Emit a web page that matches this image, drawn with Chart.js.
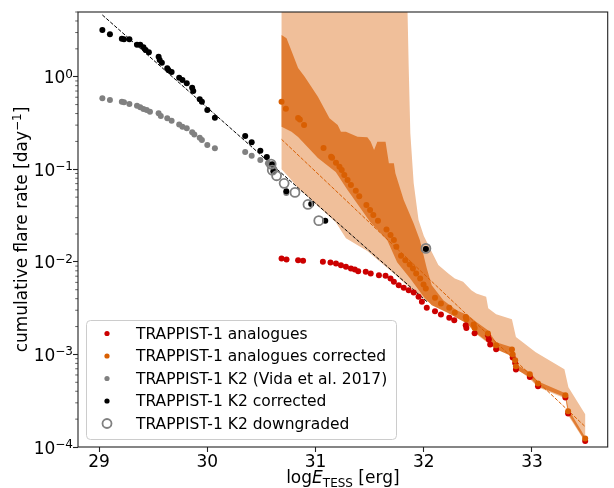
<!DOCTYPE html>
<html>
<head>
<meta charset="utf-8">
<script src="https://cdn.jsdelivr.net/npm/chart.js@4/dist/chart.umd.min.js"></script>
<style>
  html, body { margin: 0; padding: 0; background: #fff; }
  canvas { display: block; }
</style>
</head>
<body>
<canvas id="flareChart" width="614" height="488"></canvas>
<script>
// energies are log10(E_TESS / erg), rates are log10(cumulative rate / day)
const analogE = [30.686,30.732,30.839,30.885,31.068,31.138,31.189,31.235,31.281,31.327,31.363,31.394,31.464,31.510,31.586,31.647,31.693,31.724,31.769,31.815,31.861,31.907,31.952,31.983,32.028,32.104,32.159,32.236,32.282,32.388,32.394,32.470,32.593,32.602,32.614,32.669,32.822,32.845,32.852,32.980,33.056,33.309,33.334,33.492];
const analogLogRate = [-1.963,-1.974,-1.982,-1.989,-2.000,-2.006,-2.017,-2.036,-2.054,-2.071,-2.082,-2.101,-2.108,-2.125,-2.144,-2.151,-2.179,-2.216,-2.252,-2.281,-2.306,-2.331,-2.378,-2.432,-2.497,-2.533,-2.569,-2.605,-2.630,-2.684,-2.714,-2.771,-2.792,-2.839,-2.893,-2.944,-3.034,-3.092,-3.163,-3.243,-3.344,-3.466,-3.639,-3.935];

const correctedE = [30.686,30.726,30.839,30.855,30.894,31.074,31.144,31.153,31.189,31.221,31.242,31.266,31.296,31.327,31.372,31.404,31.470,31.504,31.534,31.577,31.656,31.693,31.724,31.747,31.790,31.830,31.870,31.900,31.930,31.967,31.998,32.019,32.104,32.159,32.236,32.287,32.388,32.394,32.461,32.470,32.593,32.669,32.815,32.822,32.845,32.852,32.980,33.056,33.309,33.334,33.492];
const correctedLogRate = [-0.270,-0.346,-0.446,-0.461,-0.522,-0.771,-0.865,-0.876,-0.930,-0.973,-1.009,-1.063,-1.117,-1.171,-1.232,-1.290,-1.387,-1.441,-1.495,-1.557,-1.650,-1.711,-1.765,-1.838,-1.935,-1.982,-2.028,-2.071,-2.125,-2.179,-2.244,-2.288,-2.389,-2.450,-2.497,-2.547,-2.595,-2.619,-2.677,-2.714,-2.774,-2.901,-2.947,-3.001,-3.063,-3.128,-3.214,-3.315,-3.441,-3.614,-3.909];

const vidaE = [29.03,29.10,29.21,29.23,29.28,29.35,29.38,29.41,29.44,29.47,29.55,29.57,29.63,29.67,29.74,29.77,29.81,29.86,29.88,29.93,29.95,30.00,30.07,30.35,30.41,30.49,30.56,30.61,30.73,32.02];
const vidaLogRate = [-0.234,-0.252,-0.270,-0.277,-0.295,-0.314,-0.331,-0.349,-0.360,-0.378,-0.396,-0.425,-0.450,-0.476,-0.515,-0.540,-0.558,-0.601,-0.623,-0.659,-0.684,-0.738,-0.774,-0.814,-0.854,-0.900,-0.936,-0.987,-1.257,-1.860];

const k2CorrE = [29.03,29.10,29.21,29.23,29.28,29.35,29.38,29.41,29.43,29.46,29.55,29.56,29.58,29.63,29.64,29.67,29.74,29.77,29.81,29.86,29.87,29.93,29.95,30.00,30.07,30.35,30.41,30.49,30.55,30.60,30.61,30.73,30.96,31.09,32.02];
const k2CorrLogRate = [0.505,0.458,0.411,0.404,0.404,0.346,0.346,0.318,0.289,0.264,0.216,0.181,0.151,0.091,0.072,0.051,-0.011,-0.036,-0.071,-0.119,-0.155,-0.244,-0.270,-0.360,-0.443,-0.641,-0.709,-0.800,-0.868,-0.947,-1.020,-1.236,-1.376,-1.557,-1.860];

const downE = [30.59,30.60,30.64,30.71,30.81,30.93,31.03,32.02];
const downLogRate = [-0.944,-1.009,-1.070,-1.152,-1.250,-1.380,-1.555,-1.855];

// power-law fits (end points)
const k2FitE = [29.03, 32.03];
const k2FitLogRate = [0.667, -2.43];
const analogFitE = [30.686, 33.492];
const analogFitLogRate = [-0.677, -3.78];

// uncertainty bands as outlines: upper edge left->right, then lower edge right->left
const outerBandE = [30.686,31.845,31.861,31.876,31.907,31.952,32.001,32.056,32.135,32.227,32.287,32.364,32.440,32.486,32.577,32.596,32.669,32.815,32.852,33.035,33.300,33.337,33.492,
  33.492,33.334,33.309,33.056,32.974,32.845,32.815,32.669,32.608,32.486,32.394,32.211,32.028,31.845,31.724,31.479,31.281,31.187,30.961,30.839,30.763,30.686];
const outerBandLogRate = [1.0,1.0,0.108,-0.609,-1.149,-1.549,-1.722,-1.851,-2.035,-2.125,-2.179,-2.216,-2.306,-2.342,-2.378,-2.501,-2.565,-2.619,-2.811,-2.976,-3.160,-3.355,-3.647,
  -3.946,-3.657,-3.477,-3.355,-3.257,-3.138,-2.976,-2.954,-2.889,-2.781,-2.651,-2.532,-2.425,-2.252,-2.125,-1.884,-1.744,-1.571,-1.333,-1.206,-1.098,-1.001];

const innerBandE = [30.686,30.732,30.763,30.839,30.900,31.022,31.129,31.205,31.235,31.281,31.388,31.479,31.510,31.541,31.571,31.647,31.678,31.724,31.738,31.815,31.907,31.964,32.028,32.074,32.181,32.303,32.410,32.486,32.593,32.669,32.815,32.852,32.980,33.053,33.309,33.337,33.492,
  33.492,33.337,33.309,33.053,32.980,32.852,32.815,32.669,32.605,32.486,32.394,32.211,32.074,32.001,31.873,31.754,31.662,31.507,31.296,31.187,31.022,30.839,30.778,30.686];
const innerBandLogRate = [0.451,0.415,0.324,0.094,0.0,-0.216,-0.450,-0.522,-0.595,-0.595,-0.649,-0.655,-0.703,-0.792,-0.703,-0.703,-0.936,-0.936,-1.044,-1.333,-1.585,-1.765,-2.068,-2.252,-2.414,-2.522,-2.576,-2.649,-2.738,-2.868,-2.922,-3.106,-3.192,-3.290,-3.419,-3.592,-3.895,
  -3.938,-3.646,-3.463,-3.344,-3.247,-3.160,-3.019,-2.944,-2.879,-2.771,-2.663,-2.544,-2.468,-2.381,-2.176,-2.003,-1.765,-1.571,-1.225,-1.030,-0.879,-0.652,-0.595,-0.541];

const xTicks = [29, 30, 31, 32, 33];
const yTicks = [1e-4, 1e-3, 1e-2, 1e-1, 1];
const yTickExponents = ['\u22124', '\u22123', '\u22122', '\u22121', '0'];

const FONT = "'DejaVu Sans', sans-serif";
const ORANGE = '#d95f02';

function toPoints(es, logRates) {
  return es.map((e, i) => ({ x: e, y: Math.pow(10, logRates[i]) }));
}

// minor ticks on the log axis: 2..9 x 10^k
const minorTicks = [];
for (let k = -4; k <= 0; k++) {
  for (let m = 2; m <= 9; m++) minorTicks.push(m * Math.pow(10, k));
}

// draws runs of [text, font, baseline shift] one after another, centred on x
function drawRuns(ctx, parts, cx, baseline) {
  let total = 0;
  parts.forEach(p => { ctx.font = p[1]; total += ctx.measureText(p[0]).width; });
  let x = cx - total / 2;
  parts.forEach(p => {
    ctx.font = p[1];
    ctx.fillText(p[0], x, baseline + p[2]);
    x += ctx.measureText(p[0]).width;
  });
}

const framePlugin = {
  id: 'frame',
  afterDatasetsDraw(chart) {
    const { ctx, chartArea: a, scales } = chart;
    ctx.save();
    ctx.strokeStyle = '#222';
    ctx.lineWidth = 1.1;
    ctx.strokeRect(a.left, a.top, a.right - a.left, a.bottom - a.top);
    ctx.lineWidth = 0.7;
    minorTicks.forEach(v => {
      const py = scales.y.getPixelForValue(v);
      if (py < a.top || py > a.bottom) return;
      ctx.beginPath();
      ctx.moveTo(a.left, py);
      ctx.lineTo(a.left - 2.8, py);
      ctx.stroke();
    });
    ctx.restore();
  },
  afterDraw(chart) {
    const { ctx, chartArea: a, scales } = chart;
    ctx.save();
    ctx.fillStyle = '#000';
    ctx.textBaseline = 'alphabetic';

    // y tick labels as 10^n with a raised exponent
    const base = `17px ${FONT}`, sup = `12px ${FONT}`;
    yTicks.forEach((v, i) => {
      const py = scales.y.getPixelForValue(v);
      ctx.font = sup;
      const we = ctx.measureText(yTickExponents[i]).width;
      ctx.font = base;
      const wb = ctx.measureText('10').width;
      const right = a.left - 5;
      ctx.fillText('10', right - we - wb, py + 6.5);
      ctx.font = sup;
      ctx.fillText(yTickExponents[i], right - we, py + 1);
    });

    // x axis title: log E_TESS [erg]
    const ital = `italic 17px ${FONT}`, small = `12px ${FONT}`;
    drawRuns(ctx, [['log', base, 0], ['E', ital, 0], ['TESS', small, 4], [' [erg]', base, 0]],
      (a.left + a.right) / 2, 483);

    // y axis title, rotated
    ctx.save();
    ctx.translate(27, (a.top + a.bottom) / 2);
    ctx.rotate(-Math.PI / 2);
    drawRuns(ctx, [['cumulative flare rate [day', base, 0], ['\u22121', sup, -6], [']', base, 0]], 0, 0);
    ctx.restore();

    // legend box in the lower left corner, in plotting order
    const items = chart.data.datasets.filter(ds => ds.label).reverse();
    ctx.beginPath();
    ctx.roundRect(86.5, 320.5, 310, 119, 4);
    ctx.fillStyle = 'rgba(255,255,255,0.8)';
    ctx.fill();
    ctx.strokeStyle = '#cccccc';
    ctx.lineWidth = 1;
    ctx.stroke();
    ctx.font = `15.5px ${FONT}`;
    ctx.textBaseline = 'middle';
    items.forEach((ds, i) => {
      const cy = 333.5 + i * 22.5;
      ctx.beginPath();
      ctx.arc(107, cy, ds.hollow ? ds.pointRadius : 2.6, 0, Math.PI * 2);
      if (ds.hollow) {
        ctx.strokeStyle = ds.borderColor;
        ctx.lineWidth = ds.borderWidth;
        ctx.stroke();
      } else {
        ctx.fillStyle = ds.backgroundColor;
        ctx.fill();
      }
      ctx.fillStyle = '#000';
      ctx.fillText(ds.label, 136, cy + 1);
    });
    ctx.restore();
  }
};

const dots = (label, color, es, rates, order) => ({
  label,
  data: toPoints(es, rates),
  backgroundColor: color,
  borderColor: color,
  borderWidth: 0,
  pointRadius: 3,
  order
});

new Chart(document.getElementById('flareChart'), {
  type: 'scatter',
  data: {
    datasets: [
      {
        label: 'TRAPPIST-1 K2 downgraded',
        data: toPoints(downE, downLogRate),
        backgroundColor: 'rgba(0,0,0,0)',
        borderColor: '#808080',
        borderWidth: 1.8,
        pointRadius: 4.5,
        hollow: true,
        order: 1
      },
      dots('TRAPPIST-1 K2 corrected', '#000000', k2CorrE, k2CorrLogRate, 2),
      dots('TRAPPIST-1 K2 (Vida et al. 2017)', '#808080', vidaE, vidaLogRate, 3),
      dots('TRAPPIST-1 analogues corrected', ORANGE, correctedE, correctedLogRate, 4),
      dots('TRAPPIST-1 analogues', '#cc0000', analogE, analogLogRate, 5),
      {
        data: toPoints(k2FitE, k2FitLogRate),
        showLine: true, borderColor: '#000', borderWidth: 1, borderDash: [3.7, 1.6],
        pointRadius: 0, order: 6
      },
      {
        data: toPoints(analogFitE, analogFitLogRate),
        showLine: true, borderColor: ORANGE, borderWidth: 1, borderDash: [3.7, 1.6],
        pointRadius: 0, order: 7
      },
      {
        data: toPoints(innerBandE, innerBandLogRate),
        showLine: true, fill: 'shape', backgroundColor: 'rgb(224,124,50)',
        borderWidth: 0, pointRadius: 0, order: 8
      },
      {
        data: toPoints(outerBandE, outerBandLogRate),
        showLine: true, fill: 'shape', backgroundColor: 'rgb(240,191,154)',
        borderWidth: 0, pointRadius: 0, order: 9
      }
    ]
  },
  options: {
    responsive: false,
    animation: false,
    devicePixelRatio: 1,
    layout: { padding: { top: 12, right: 1, left: 0, bottom: 0 } },
    plugins: {
      legend: { display: false },
      tooltip: { enabled: false }
    },
    scales: {
      x: {
        type: 'linear',
        min: 28.805,
        max: 33.70,
        afterBuildTicks: s => { s.ticks = xTicks.map(v => ({ value: v })); },
        afterFit: s => { s.height = 41; },
        ticks: { font: { family: FONT, size: 17 }, color: '#000', padding: 0, maxRotation: 0 },
        grid: { drawOnChartArea: false, tickLength: 5, tickColor: '#222', tickWidth: 1.1 },
        border: { display: false }
      },
      y: {
        type: 'logarithmic',
        min: 1e-4,
        max: 5.0,
        afterBuildTicks: s => { s.ticks = yTicks.map(v => ({ value: v })); },
        afterFit: s => { s.width = 78; },
        ticks: { display: false },
        grid: { drawOnChartArea: false, tickLength: 5, tickColor: '#222', tickWidth: 1.1 },
        border: { display: false }
      }
    }
  },
  plugins: [framePlugin]
});
</script>
</body>
</html>
